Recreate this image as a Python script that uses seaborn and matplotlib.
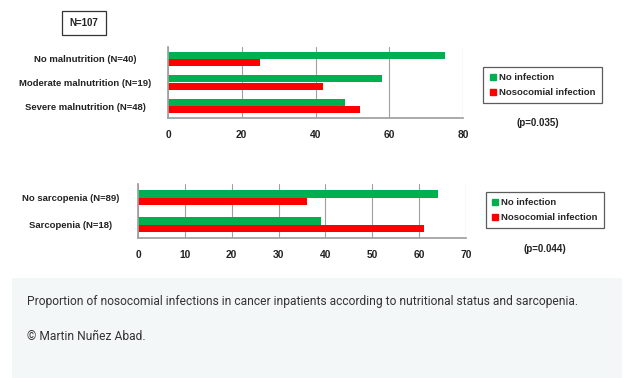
import pandas as pd
import seaborn as sns
import matplotlib.pyplot as plt
from matplotlib.patches import Rectangle
from matplotlib.lines import Line2D

# data (percent)
mal_groups = ['No malnutrition (N=40)', 'Moderate malnutrition (N=19)', 'Severe malnutrition (N=48)']
mal_no_inf = [75, 58, 48]
mal_noso = [25, 42, 52]

sarc_groups = ['No sarcopenia (N=89)', 'Sarcopenia (N=18)']
sarc_no_inf = [64, 39]
sarc_noso = [36, 61]

series = ['No infection', 'Nosocomial infection']
colors = ['#00b050', '#ff0000']
caption = 'Proportion of nosocomial infections in cancer inpatients according to nutritional status and sarcopenia.'
credit = '\u00a9 Martin Nu\u00f1ez Abad.'

FS = 6.8


def longDf(groups, a, b):
    rows = []
    for g, v in zip(groups, a):
        rows.append({'group': g, 'source': series[0], 'value': v})
    for g, v in zip(groups, b):
        rows.append({'group': g, 'source': series[1], 'value': v})
    return pd.DataFrame(rows)


def drawPanel(fig, rect, df, groups, xmax, step, width, label_x, leg_rect, ptext, ppos):
    W, H = 636, 378
    l, t, w, h = rect
    ax = fig.add_axes([l / W, 1 - (t + h) / H, w / W, h / H])
    sns.barplot(data=df, y='group', x='value', hue='source', order=groups,
                hue_order=series, palette=colors, orient='h', width=width,
                saturation=1, ax=ax, legend=False, errorbar=None, linewidth=0)
    ax.set_xlim(0, xmax)
    ax.set_ylim(len(groups) - 0.5, -0.5)
    ax.set_xticks(range(0, xmax + 1, step))
    ax.grid(True, axis='x', color='#a0a0a0', lw=0.8)
    ax.set_axisbelow(True)
    for s in ['top', 'right']:
        ax.spines[s].set_visible(False)
    for s in ['left', 'bottom']:
        ax.spines[s].set_color('#a0a0a0')
    ax.set_xlabel('')
    ax.set_ylabel('')
    ax.set_yticks(range(len(groups)))
    ax.set_yticklabels(groups, fontsize=FS, fontweight='bold', color='#222222', ha='center')
    ax.set_yticks([i - 0.5 for i in range(len(groups) + 1)], minor=True)
    # labels are centred on a common x, pad is in points
    ax.tick_params(axis='y', which='major', length=0, pad=(l - label_x) * 0.72)
    ax.tick_params(axis='y', which='minor', length=3, color='#a0a0a0', direction='out')
    ax.tick_params(axis='x', length=0, pad=9, labelsize=7.4, labelcolor='#222222')
    for lab in ax.get_xticklabels():
        lab.set_fontweight('bold')

    handles = [Line2D([], [], marker='s', ls='', color=c, markersize=4) for c in colors]
    ll, lt, lw, lh = leg_rect
    leg = ax.legend(handles, series, loc='center', frameon=True, fancybox=False,
                    bbox_to_anchor=((ll + lw / 2) / W, 1 - (lt + lh / 2) / H),
                    bbox_transform=fig.transFigure, handlelength=0.7,
                    handletextpad=0.3, borderpad=0.65, labelspacing=0.65,
                    prop={'size': FS, 'weight': 'bold'})
    leg.get_frame().set_edgecolor('#333333')
    leg.get_frame().set_linewidth(0.9)
    fig.text(ppos[0] / W, 1 - ppos[1] / H, ptext, ha='center', va='center',
             fontsize=7, fontweight='bold', color='#222222')
    return ax


sns.set_theme(style='white')
plt.rcParams['font.family'] = ['Liberation Sans', 'DejaVu Sans']

fig = plt.figure(figsize=(6.36, 3.78), dpi=100)
fig.patch.set_facecolor('white')

drawPanel(fig, (168, 47, 295, 71), longDf(mal_groups, mal_no_inf, mal_noso),
          mal_groups, 80, 20, 0.6, 85, (477, 67, 131, 36), '(p=0.035)', (538, 123))
drawPanel(fig, (138, 184, 328, 54), longDf(sarc_groups, sarc_no_inf, sarc_noso),
          sarc_groups, 70, 10, 0.55, 71, (482, 191, 126, 38), '(p=0.044)', (545, 249))

fig.text(84 / 636, 1 - 23 / 378, 'N=107', ha='center', va='center', fontsize=7,
         fontweight='bold', color='#222222',
         bbox=dict(boxstyle='square,pad=0.75', fc='white', ec='#333333', lw=0.9))

# caption block
fig.patches.append(Rectangle((12 / 636, 0), 610 / 636, 100 / 378,
                             transform=fig.transFigure, fc='#f4f7f7', ec='none', zorder=0))
fig.text(27 / 636, 1 - 302 / 378, caption, ha='left', va='center', fontsize=8.65,
         family='Roboto', color='#333333')
fig.text(27 / 636, 1 - 336 / 378, credit, ha='left', va='center', fontsize=8.65,
         family='Roboto', color='#333333')

plt.savefig('out.png', dpi=100)
